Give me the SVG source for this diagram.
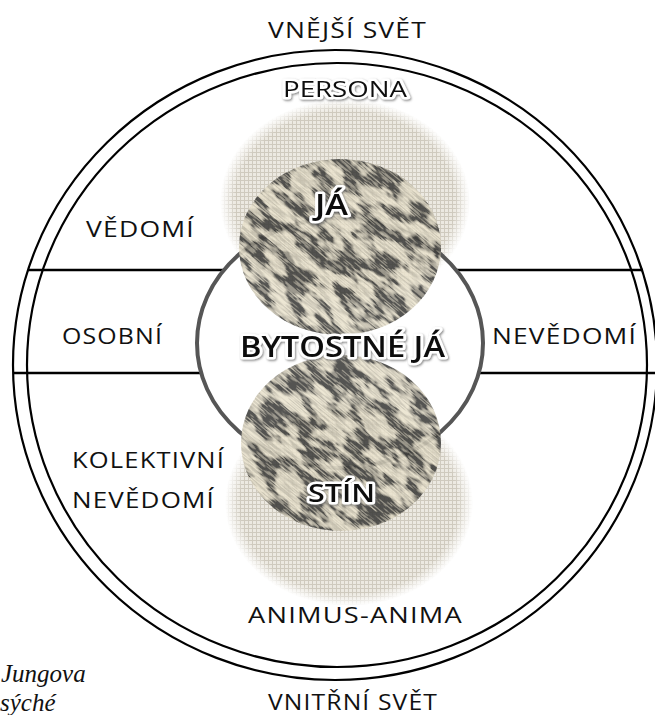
<svg xmlns="http://www.w3.org/2000/svg" width="655" height="715" viewBox="0 0 655 715">
<defs>
<style>
.lbl{font-family:"Open Sans","Noto Sans","Liberation Sans",sans-serif;font-size:22px;fill:#111;letter-spacing:1px}
.glow{font-family:"Open Sans","Noto Sans","Liberation Sans",sans-serif;fill:#111;stroke:#fff;stroke-width:5px;stroke-linejoin:round;paint-order:stroke;filter:url(#shadow)}
.ring{fill:none;stroke:#000;stroke-width:2.2}
.div{stroke:#000;stroke-width:2.6}
.cap{font-family:"Liberation Serif","Times New Roman",serif;font-style:italic;font-size:25px;fill:#111}
</style>
<filter id="shadow" x="-10%" y="-30%" width="120%" height="160%">
<feDropShadow dx="1" dy="1.2" stdDeviation="1" flood-color="#666" flood-opacity="0.8"/>
</filter>
<filter id="fDark" x="-20%" y="-20%" width="140%" height="140%">
<feTurbulence type="fractalNoise" baseFrequency="0.035 0.08" numOctaves="3" seed="7" result="blot"/>
<feColorMatrix in="blot" type="matrix" values="0 0 0 0 0  0 0 0 0 0  0 0 0 0 0  6 0 0 0 -2.6" result="blotA"/>
<feTurbulence type="fractalNoise" baseFrequency="0.05 0.8" numOctaves="2" seed="3" result="streak"/>
<feColorMatrix in="streak" type="matrix" values="0 0 0 0 0  0 0 0 0 0  0 0 0 0 0  5 0 0 0 -2.0" result="streakA"/>
<feComposite in="blotA" in2="streakA" operator="arithmetic" k1="0.5" k2="0.7" k3="0.35" k4="0" result="combo"/>
<feFlood flood-color="#3c3c3a" result="ink"/>
<feComposite in="ink" in2="combo" operator="in" result="inkA"/>
<feFlood flood-color="#ebe4cf" result="paper"/>
<feMerge><feMergeNode in="paper"/><feMergeNode in="inkA"/></feMerge>
</filter>
<pattern id="linen" width="4" height="4" patternUnits="userSpaceOnUse">
<rect width="4" height="4" fill="#ece9e1"/>
<path d="M0 0.5H4M0.5 0V4" stroke="#cfcabe" stroke-width="1"/>
</pattern>
<radialGradient id="fade">
<stop offset="0" stop-color="#fff"/>
<stop offset="0.88" stop-color="#fff"/>
<stop offset="1" stop-color="#000"/>
</radialGradient>
<mask id="mPersona" maskUnits="userSpaceOnUse" x="0" y="0" width="655" height="715">
<ellipse cx="345" cy="202" rx="125" ry="103" fill="url(#fade)"/>
</mask>
<mask id="mAnimus" maskUnits="userSpaceOnUse" x="0" y="0" width="655" height="715">
<ellipse cx="349" cy="503" rx="124" ry="103" fill="url(#fade)"/>
</mask>
<clipPath id="cJa"><ellipse cx="340" cy="247" rx="101" ry="88"/></clipPath>
<clipPath id="cStin"><ellipse cx="341" cy="443" rx="100" ry="88"/></clipPath>
</defs>
<rect width="655" height="715" fill="#fff"/>

<g id="psyche-rings">
<ellipse class="ring" cx="335" cy="365" rx="322" ry="315"/>
<ellipse class="ring" cx="337" cy="365" rx="310" ry="302"/>
</g>

<g id="dividers">
<line class="div" x1="28" y1="270" x2="224" y2="270"/>
<line class="div" x1="456" y1="270" x2="643" y2="270"/>
<line class="div" x1="13" y1="373" x2="200" y2="373"/>
<line class="div" x1="480" y1="373" x2="655" y2="373"/>
</g>

<g id="persona">
<rect x="215" y="95" width="260" height="215" fill="url(#linen)" mask="url(#mPersona)"/>
</g>
<g id="animus-anima">
<rect x="220" y="398" width="260" height="212" fill="url(#linen)" mask="url(#mAnimus)"/>
</g>

<g id="bytostne-ja-ring">
<ellipse cx="340" cy="343" rx="143" ry="125" fill="none" stroke="#565656" stroke-width="4"/>
</g>

<g id="ja" opacity="0.88">
<g clip-path="url(#cJa)">
<g transform="rotate(40 340 247)">
<rect x="180" y="90" width="320" height="320" filter="url(#fDark)"/>
</g>
</g>
</g>
<g id="stin" opacity="0.88">
<g clip-path="url(#cStin)">
<g transform="rotate(40 341 443)">
<rect x="181" y="286" width="320" height="320" filter="url(#fDark)"/>
</g>
</g>
</g>

<g id="labels">
<text class="lbl" x="268" y="38" textLength="159" lengthAdjust="spacingAndGlyphs">VNĚJŠÍ SVĚT</text>
<text class="glow" x="283" y="97" font-size="21" textLength="124" lengthAdjust="spacingAndGlyphs">PERSONA</text>
<text class="lbl" x="86" y="237" textLength="109" lengthAdjust="spacingAndGlyphs">VĚDOMÍ</text>
<text class="glow" x="315" y="215" font-size="28" font-weight="600" textLength="33" lengthAdjust="spacingAndGlyphs">JÁ</text>
<text class="lbl" x="62" y="344" textLength="101" lengthAdjust="spacingAndGlyphs">OSOBNÍ</text>
<text class="glow" x="240" y="357" font-size="28" font-weight="600" textLength="205" lengthAdjust="spacingAndGlyphs">BYTOSTNÉ JÁ</text>
<text class="lbl" x="492" y="344" textLength="145" lengthAdjust="spacingAndGlyphs">NEVĚDOMÍ</text>
<text class="lbl" x="72" y="468" textLength="153" lengthAdjust="spacingAndGlyphs">KOLEKTIVNÍ</text>
<text class="lbl" x="72" y="508" textLength="143" lengthAdjust="spacingAndGlyphs">NEVĚDOMÍ</text>
<text class="glow" x="308" y="502" font-size="26" font-weight="600" textLength="67" lengthAdjust="spacingAndGlyphs">STÍN</text>
<text class="lbl" x="248" y="623" textLength="215" lengthAdjust="spacingAndGlyphs">ANIMUS-ANIMA</text>
<text class="lbl" x="268" y="710" textLength="170" lengthAdjust="spacingAndGlyphs">VNITŘNÍ SVĚT</text>
<text class="cap" x="1" y="682">Jungova</text>
<text class="cap" x="0" y="711">sýché</text>
</g>
</svg>
